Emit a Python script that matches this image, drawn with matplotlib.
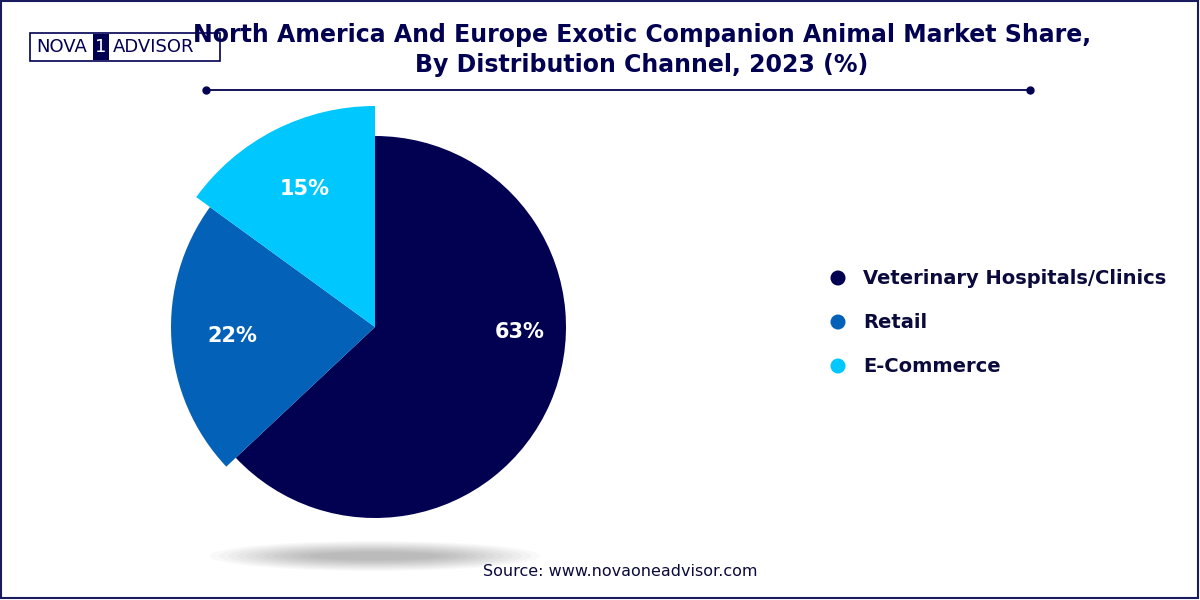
import numpy as np
import matplotlib.pyplot as plt
from matplotlib.patches import Wedge, Ellipse, Rectangle

categories = ["Veterinary Hospitals/Clinics", "Retail", "E-Commerce"]
shares = [63, 22, 15]
colors = ["#020051", "#0461B8", "#00C8FF"]
radii = [191, 204, 221]

fig = plt.figure(figsize=(12, 6), dpi=100)
ax = fig.add_axes([0, 0, 1, 1])
ax.set_xlim(0, 1200)
ax.set_ylim(600, 0)
ax.axis("off")

# border
ax.add_patch(Rectangle((1, 1), 1197, 597, fill=False, ec="#1a1a5e", lw=1.5))

# shadow under pie
for i in range(12):
    ax.add_patch(Ellipse((375, 556), 330 - i * 18, 30 - i * 2, color="#000000",
                         alpha=0.025, lw=0))

cx, cy = 375, 327
start = -90
for share, col, r in zip(shares, colors, radii):
    sweep = share / 100 * 360
    ax.add_patch(Wedge((cx, cy), r, start, start + sweep, color=col, lw=0))
    mid = np.deg2rad(start + sweep / 2)
    if share == 63:
        mid = np.deg2rad(2)
        rr = 145
    else:
        rr = 0.7 * r
    ax.text(cx + rr * np.cos(mid), cy + rr * np.sin(mid), f"{share}%",
            color="white", fontsize=15, fontweight="bold", ha="center", va="center")
    start += sweep

# legend
for i, (cat, col) in enumerate(zip(categories, colors)):
    y = 278 + i * 44
    ax.add_patch(Ellipse((838, y), 15, 15, color=col, lw=0))
    ax.text(863, y, cat, fontsize=14, color="#0a0a3c", va="center", fontweight="semibold")

# title
ax.text(642, 50, "North America And Europe Exotic Companion Animal Market Share,\nBy Distribution Channel, 2023 (%)",
        ha="center", va="center", fontsize=17, fontweight="bold", color="#020051",
        linespacing=1.35)
ax.plot([206, 1030], [90, 90], color="#020051", lw=1.3)
ax.plot([206, 1030], [90, 90], "o", color="#020051", ms=5)

# logo
ax.add_patch(Rectangle((30, 33), 190, 28, fill=False, ec="#020051", lw=1.2))
ax.text(36, 47, "NOVA", fontsize=13, color="#020051", va="center")
ax.add_patch(Rectangle((93, 34), 16, 26, color="#020051", lw=0))
ax.text(101, 47, "1", fontsize=13, color="white", va="center", ha="center")
ax.text(113, 47, "ADVISOR", fontsize=13, color="#020051", va="center")

ax.text(620, 572, "Source: www.novaoneadvisor.com", ha="center", va="center",
        fontsize=11.5, color="#0a0a3c")

fig.savefig("out.png")
